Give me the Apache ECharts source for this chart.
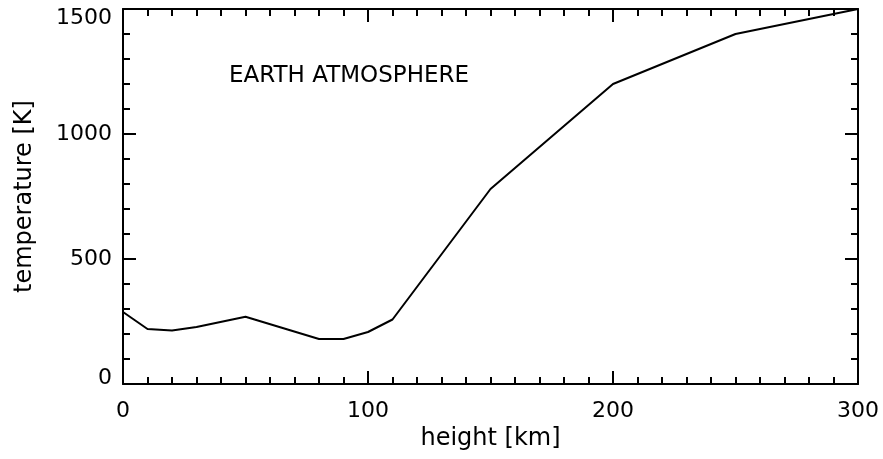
<!DOCTYPE html>
<html>
<head>
<meta charset="utf-8">
<script src="https://cdn.jsdelivr.net/npm/echarts@6/dist/echarts.min.js"></script>
<style>html,body{margin:0;padding:0;background:#fff;}#c{width:883px;height:459px;}</style>
</head>
<body>
<div id="c"></div>
<script>
const heights = [0, 10, 20, 30, 50, 80, 90, 100, 110, 150, 200, 250, 300];
const temperatures = [288, 220, 214, 228, 269, 180, 180, 208, 258, 780, 1200, 1400, 1500];
const chartTitle = 'EARTH ATMOSPHERE';
const xName = 'height [km]';
const yName = 'temperature [K]';

const FONT = 'DejaVu Sans';
const data = heights.map((h, i) => [h, temperatures[i]]);
const axisCommon = {
  axisLine: { show: true, onZero: false, lineStyle: { color: '#000', width: 2 } },
  axisTick: { show: true, inside: true, length: 13, lineStyle: { color: '#000', width: 2 } },
  minorTick: { show: true, length: 7, lineStyle: { color: '#000', width: 2 } },
  splitLine: { show: false },
  minorSplitLine: { show: false }
};
const chart = echarts.init(document.getElementById('c'), null, { renderer: 'canvas' });
chart.setOption({
  backgroundColor: '#fff',
  animation: false,
  title: {
    text: chartTitle, left: 224, top: 60,
    textStyle: { fontFamily: FONT, fontSize: 23, fontWeight: 'normal', color: '#000' }
  },
  grid: { left: 123, right: 25, top: 9, bottom: 75 },
  xAxis: [
    Object.assign({}, axisCommon, {
      type: 'value', min: 0, max: 300, interval: 100, position: 'bottom',
      minorTick: Object.assign({}, axisCommon.minorTick, { splitNumber: 10 }),
      name: xName, nameLocation: 'middle', nameGap: 37,
      nameTextStyle: { fontFamily: FONT, fontSize: 24, color: '#000' },
      axisLabel: { margin: 16, fontFamily: FONT, fontSize: 22, color: '#000' }
    }),
    Object.assign({}, axisCommon, {
      type: 'value', min: 0, max: 300, interval: 100, position: 'top',
      minorTick: Object.assign({}, axisCommon.minorTick, { splitNumber: 10 }),
      axisLabel: { show: false }
    })
  ],
  yAxis: [
    Object.assign({}, axisCommon, {
      type: 'value', min: 0, max: 1500, interval: 500, position: 'left',
      minorTick: Object.assign({}, axisCommon.minorTick, { splitNumber: 5 }),
      name: yName, nameLocation: 'middle', nameGap: 86,
      nameTextStyle: { fontFamily: FONT, fontSize: 24, color: '#000' },
      axisLabel: {
        margin: 11, fontFamily: FONT, fontSize: 22, color: '#000',
        formatter: function (v) {
          if (v === 0) return '{lo|' + v + '}';
          if (v === 1500) return '{hi|' + v + '}';
          return String(v);
        },
        rich: {
          lo: { fontFamily: FONT, fontSize: 22, color: '#000', padding: [0, 0, 12, 0] },
          hi: { fontFamily: FONT, fontSize: 22, color: '#000', padding: [18, 0, 0, 0] }
        }
      }
    }),
    Object.assign({}, axisCommon, {
      type: 'value', min: 0, max: 1500, interval: 500, position: 'right',
      minorTick: Object.assign({}, axisCommon.minorTick, { splitNumber: 5 }),
      axisLabel: { show: false }
    })
  ],
  series: [{
    type: 'line', data: data, xAxisIndex: 0, yAxisIndex: 0,
    symbol: 'none', lineStyle: { color: '#000', width: 2 }, itemStyle: { color: '#000' }
  }]
});
</script>
</body>
</html>
